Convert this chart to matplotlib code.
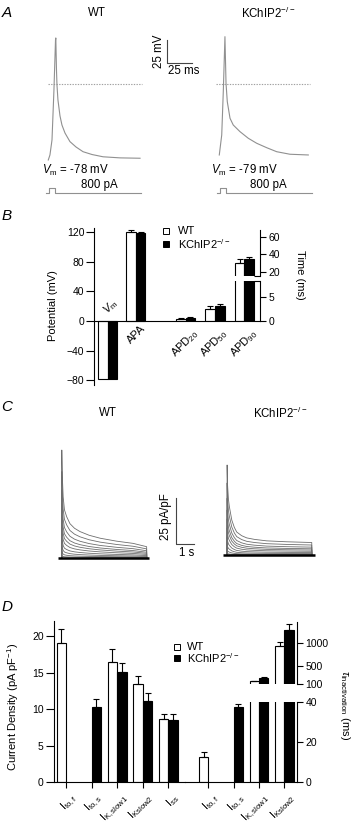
import matplotlib.pyplot as plt
import numpy as np
from matplotlib.lines import Line2D
from matplotlib.transforms import offset_copy

plt.rcParams['font.family'] = ['Liberation Sans', 'DejaVu Sans']
plt.rcParams['mathtext.fontset'] = 'custom'
plt.rcParams['mathtext.rm'] = 'Liberation Sans'
plt.rcParams['mathtext.it'] = 'Liberation Sans:italic'
plt.rcParams['mathtext.bf'] = 'Liberation Sans:bold'
plt.rcParams['axes.linewidth'] = 0.8
plt.rcParams['font.size'] = 7.5

# --- A: action potentials (ms, mV) ---
ap_wt_t = [0, 1.7, 3.8, 5.8, 7.4, 7.7, 8.4, 8.9, 9.9, 12.0, 14.0, 17.1, 22.2, 28.4, 35.6, 44.8, 56.1, 73.5, 94.0]
ap_wt_v = [-83.7, -78.2, -61.7, -6.6, 48.5, 50.7, 15.4, -1.1, -17.6, -35.2, -45.2, -54.0, -63.5, -69.4,
           -74.6, -77.7, -80.2, -81.4, -81.8]
ap_ko_t = [0, 2.5, 4.1, 5.8, 6.9, 8.2, 11.0, 14.3, 21.2, 29.7, 38.3, 48.6, 58.8, 72.4, 91.2]
ap_ko_v = [-78.2, -56.2, -8.5, 52.1, 0.8, -19.5, -37.8, -45.2, -52.5, -59.8, -65.3, -70.2, -74.6, -77.4, -78.2]
vm_rest = ['-78', '-79']
stim_t = [-2, 1, 1, 7, 7, 95]
stim_pa = [0, 0, 800, 800, 0, 0]

# --- B: AP parameters ---
pot_groups = [r'$V_{\mathrm{m}}$', 'APA']
pot_wt = [-78, 120.5]
pot_ko = [-79, 119.5]
pot_wt_err = [0, 3.0]
pot_ko_err = [0, 1.5]
apd_labels = [r'APD$_{20}$', r'APD$_{50}$', r'APD$_{90}$']
apd_wt = [0.5, 2.55, 30.5]
apd_wt_err = [0.15, 0.55, 4.3]
apd_ko = [0.7, 3.1, 34.8]
apd_ko_err = [0.1, 0.3, 2.6]

# --- C: K+ current families (s, pA/pF), largest trace + relative amplitudes ---
cur_wt_t = [0, 0.005, 0.03, 0.08, 0.15, 0.27, 0.45, 0.7, 1.0, 1.5, 2.1, 3.0, 3.9, 4.64, 4.645]
cur_wt = [0, 58.5, 45, 33, 26, 22.3, 18.5, 16, 14.2, 12.2, 10.6, 9.0, 7.8, 6.0, 0]
cur_ko_t = [0, 0.005, 0.03, 0.08, 0.13, 0.26, 0.4, 0.53, 0.8, 1.08, 1.5, 2.17, 3.26, 4.63, 4.635]
cur_ko = [0, 48.9, 38, 30, 26.2, 19, 15, 12.5, 10.5, 9.3, 8.5, 7.7, 7.2, 6.8, 0]
step_frac = [1.0, 0.8, 0.63, 0.5, 0.4, 0.3, 0.2, 0.12, 0.06, 0.02]

# --- D: current densities and inactivation time constants ---
d_labels = [r'I$_{\mathrm{to,f}}$', r'I$_{\mathrm{to,s}}$', r'I$_{\mathrm{K,slow1}}$',
            r'I$_{\mathrm{Kslow2}}$', r'I$_{\mathrm{ss}}$']
cd_wt = [19.1, 0, 16.4, 13.5, 8.65]
cd_wt_err = [1.9, 0, 1.8, 1.0, 0.65]
cd_ko = [0, 10.35, 15.1, 11.15, 8.45]
cd_ko_err = [0, 1.05, 1.15, 1.1, 0.85]
tau_labels = d_labels[:4]
tau_wt = [12.5, 0, 160, 950]
tau_wt_err = [2.5, 0, 12, 90]
tau_ko = [0, 37.8, 240, 1295]
tau_ko_err = [0, 1.4, 20, 130]

KO = r'KChIP2$^{\mathrm{-/-}}$'
W, H = 360, 831
fig = plt.figure(figsize=(W / 100, H / 100), dpi=100)


def box(x0, y0, x1, y1):
    return fig.add_axes([x0 / W, 1 - y1 / H, (x1 - x0) / W, (y1 - y0) / H])


def label(x, y, s, **kw):
    kw.setdefault('ha', 'center')
    kw.setdefault('va', 'center')
    fig.text(x / W, 1 - y / H, s, **kw)


def square(x, y, face, size=4):
    fig.add_artist(Line2D([x / W], [1 - y / H], marker='s', ms=size, mfc=face, mec='k',
                          mew=0.7, transform=fig.transFigure))


def bare(ax):
    for s in ax.spines.values():
        s.set_visible(False)
    ax.set_xticks([])
    ax.set_yticks([])
    ax.patch.set_alpha(0)


def bars(ax, pos, wt, wt_err, ko, ko_err, w):
    pos = np.asarray(pos, float)
    for vals, errs, face, sgn in [(wt, wt_err, 'white', -1), (ko, ko_err, 'black', 1)]:
        vals = np.asarray(vals, float)
        errs = np.asarray(errs, float)
        m = vals != 0
        ax.bar(pos[m], vals[m], width=sgn * w, align='edge', color=face, edgecolor='k', linewidth=0.8)
        e = m & (errs > 0)
        ax.errorbar(pos[e] + sgn * w / 2, vals[e], yerr=[np.zeros(e.sum()), errs[e]], fmt='none',
                    ecolor='k', elinewidth=0.8, capsize=2, capthick=0.8)


def rot_labels(ax, pos, texts, dx, dy, size=8):
    tr = offset_copy(ax.get_xaxis_transform(), fig=fig, x=dx, y=dy, units='dots')
    for p, t in zip(pos, texts):
        ax.text(p, 0, t, transform=tr, rotation=45, ha='right', va='top',
                rotation_mode='anchor', fontsize=size, clip_on=False)


# ================= A =================
label(7, 13, 'A', fontsize=11, style='italic')
label(97, 13, 'WT', fontsize=8.3)
label(268, 13, KO, fontsize=8.3)
for (t, v, left, dash, vm_x, vm), stim_left in zip(
        [(ap_wt_t, ap_wt_v, 39.5, (-0.3, 96), 75, vm_rest[0]),
         (ap_ko_t, ap_ko_v, 210.5, (-3.4, 93), 244, vm_rest[1])], [39.5, 210.5]):
    ax = box(left, 29.5, left + 110.3, 202)
    bare(ax)
    ax.set_xlim(-9, 104)
    ax.set_ylim(-130, 60)
    ax.hlines(0, dash[0], dash[1], colors='#a0a0a0', linestyles=(0, (1.2, 1.2)), lw=0.8)
    ax.plot(t, v, color='#909090', lw=0.8)
    sx = box(stim_left, 183, stim_left + 110.3, 198)
    bare(sx)
    sx.set_xlim(-9, 104)
    sx.set_ylim(-752, 1648)
    sx.plot(stim_t, stim_pa, color='#909090', lw=0.8)
    label(vm_x, 170, r'$V_{\mathrm{m}}$ = ' + vm + ' mV', fontsize=8.3)
    label(vm_x + 24, 185, '800 pA', fontsize=8.3)
    if left < 100:
        ax.plot([121.9, 121.9, 146.9], [48.5, 23.5, 23.5], color='#444444', lw=0.8, clip_on=False)
label(158.5, 51, '25 mV', rotation=90, fontsize=8.3)
label(183.5, 71, '25 ms', fontsize=8.3)

# ================= B =================
label(7, 216, 'B', fontsize=11, style='italic')
axL = box(94, 228.3, 152, 384.6)
axL.set_xlim(-0.48, 1.57)
axL.set_ylim(-86, 125.5)
bars(axL, np.arange(2), pot_wt, pot_wt_err, pot_ko, pot_ko_err, 0.34)
axL.axhline(0, color='k', lw=0.8)
for s in ['top', 'right', 'bottom']:
    axL.spines[s].set_visible(False)
axL.set_xticks([])
axL.set_yticks([-80, -40, 0, 40, 80, 120])
axL.tick_params(axis='y', length=6, width=0.8, pad=1, labelsize=7.5)
axL.patch.set_alpha(0)
axL.text(0.12, 19, pot_groups[0], rotation=45, ha='center', va='center', fontsize=8)
tr = offset_copy(axL.transData, fig=fig, x=4, y=-2, units='dots')
axL.text(1, 0, pot_groups[1], transform=tr, rotation=45, ha='right', va='top',
         rotation_mode='anchor', fontsize=8)
label(53, 306, 'Potential (mV)', rotation=90, fontsize=8)

w_apd = 0.33
axR = box(152, 281, 260, 321)
axR.set_xlim(-1.14, 2.53)
axR.set_ylim(0, 8.23)
bars(axR, np.arange(3), apd_wt, apd_wt_err, apd_ko, apd_ko_err, w_apd)
axU = box(152, 230, 260, 276.4)
axU.set_xlim(-1.14, 2.53)
axU.set_ylim(14.5, 68.5)
bars(axU, np.arange(3), apd_wt, apd_wt_err, apd_ko, apd_ko_err, w_apd)
for a, ticks, brk in [(axR, [0, 5], 8.23), (axU, [20, 40, 60], 14.5)]:
    a.patch.set_alpha(0)
    for s in ['top', 'left']:
        a.spines[s].set_visible(False)
    a.spines['bottom'].set_visible(a is axR)
    a.yaxis.tick_right()
    a.set_yticks(ticks)
    a.set_yticks([brk], minor=True)
    a.tick_params(axis='y', which='major', length=4, width=0.8, pad=2, labelsize=7.5)
    a.tick_params(axis='y', which='minor', direction='in', length=4, width=0.8)
    a.set_xticks([])
rot_labels(axR, np.arange(3), apd_labels, 6, -6)
label(300, 275, 'Time (ms)', rotation=270, fontsize=8)
square(165.7, 230.7, 'white')
square(165.7, 244, 'black')
label(178, 230.7, 'WT', ha='left', fontsize=8)
label(178, 244, KO, ha='left', fontsize=8)

# ================= C =================
label(7, 407, 'C', fontsize=11, style='italic')
label(108, 413, 'WT', fontsize=8.3)
label(280, 413, KO, fontsize=8.3)
for t, top, left, base in [(cur_wt_t, cur_wt, 50, 557.7), (cur_ko_t, cur_ko, 215.3, 555)]:
    ax = box(left, base - 117.8, left + 110, base + 7.4)
    bare(ax)
    ax.set_xlim(-0.64, 5.37)
    ax.set_ylim(-4, 64)
    for f in step_frac:
        ax.plot(t, np.asarray(top) * f, color='#6e6e6e', lw=0.6)
    ax.plot([t[0] - 0.2, t[-1] + 0.15], [0, 0], color='k', lw=1.8, solid_capstyle='butt')
    if left < 100:
        ax.plot([6.23, 6.23, 7.23], [32.3, 7.3, 7.3], color='#444444', lw=0.8, clip_on=False)
label(166.5, 517, '25 pA/pF', rotation=90, fontsize=8.3)
label(186.5, 552.5, '1 s', fontsize=8.3)

# ================= D =================
label(7, 607, 'D', fontsize=11, style='italic')
axD = box(54, 621.3, 185, 782.3)
axD.set_xlim(-0.47, 4.65)
axD.set_ylim(0, 22)
bars(axD, np.arange(5), cd_wt, cd_wt_err, cd_ko, cd_ko_err, 0.37)
axD.spines['top'].set_visible(False)
axD.spines['right'].set_visible(False)
axD.patch.set_alpha(0)
axD.set_yticks([0, 5, 10, 15, 20])
axD.set_xticks(np.arange(5))
axD.set_xticklabels([])
axD.tick_params(axis='y', length=6, width=0.8, pad=1.5, labelsize=7.5)
axD.tick_params(axis='x', length=4, width=0.8)
rot_labels(axD, np.arange(5), d_labels, 4, -9)
label(13, 707, 'Current Density (pA pF$^{-1}$)', rotation=90, fontsize=8)

axT = box(185, 702.3, 297.3, 782.3)
axT.set_xlim(-0.92, 3.51)
axT.set_ylim(0, 40)
bars(axT, np.arange(4), tau_wt, tau_wt_err, tau_ko, tau_ko_err, 0.37)
axT2 = box(185, 621.7, 297.3, 684)
axT2.set_xlim(-0.92, 3.51)
axT2.set_ylim(100, 1480)
bars(axT2, np.arange(4), tau_wt, tau_wt_err, tau_ko, tau_ko_err, 0.37)
for a, ticks in [(axT, [0, 20, 40]), (axT2, [100, 500, 1000])]:
    a.patch.set_alpha(0)
    for s in ['top', 'left']:
        a.spines[s].set_visible(False)
    a.spines['bottom'].set_visible(a is axT)
    a.yaxis.tick_right()
    a.set_yticks(ticks)
    a.tick_params(axis='y', length=4, width=0.8, pad=2, labelsize=7.5)
axT.set_xticks(np.arange(4))
axT.set_xticklabels([])
axT.tick_params(axis='x', length=4, width=0.8)
axT2.set_xticks([])
rot_labels(axT, np.arange(4), tau_labels, 4, -9)
label(345.5, 705, r'$\tau_{\mathrm{inactivation}}$ (ms)', rotation=270, fontsize=8)
square(176.7, 646.7, 'white')
square(176.7, 657.7, 'black')
label(187.3, 646.7, 'WT', ha='left', fontsize=8)
label(187.3, 658.3, KO, ha='left', fontsize=8)

fig.savefig('out.png', dpi=100)
